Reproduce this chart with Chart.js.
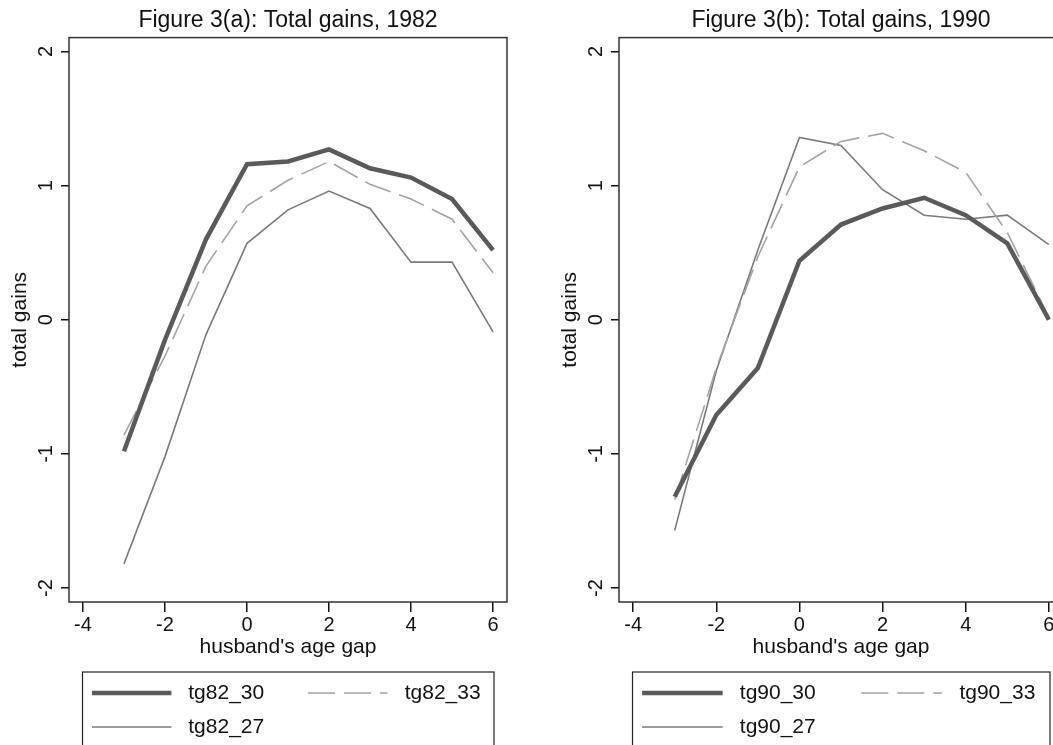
<!DOCTYPE html>
<html>
<head>
<meta charset="utf-8">
<script src="https://cdn.jsdelivr.net/npm/chart.js@4.4.1/dist/chart.umd.min.js"></script>
<style>
  html, body { margin: 0; padding: 0; background: #fff; overflow: hidden; width: 1053px; height: 745px; }
  .panel { position: absolute; top: 0; height: 745px; }
  #left { left: 0; width: 530px; }
  #right { left: 550px; width: 536px; }
</style>
</head>
<body>
<div class="panel" id="left"><canvas id="chart82"></canvas></div>
<div class="panel" id="right"><canvas id="chart90"></canvas></div>
<script>
const gaps = [-3, -2, -1, 0, 1, 2, 3, 4, 5, 6];
const xTicks = [-4, -2, 0, 2, 4, 6];
const yTicks = [-2, -1, 0, 1, 2];

const tg82_30 = [-0.98, -0.15, 0.60, 1.16, 1.18, 1.27, 1.13, 1.06, 0.90, 0.52];
const tg82_33 = [-0.86, -0.27, 0.40, 0.85, 1.04, 1.18, 1.01, 0.90, 0.75, 0.35];
const tg82_27 = [-1.82, -1.02, -0.11, 0.57, 0.82, 0.96, 0.83, 0.43, 0.43, -0.09];

const tg90_30 = [-1.32, -0.71, -0.36, 0.44, 0.71, 0.83, 0.91, 0.78, 0.57, 0.00];
const tg90_33 = [-1.34, -0.36, 0.47, 1.14, 1.33, 1.39, 1.26, 1.10, 0.65, 0.02];
const tg90_27 = [-1.57, -0.38, 0.52, 1.36, 1.30, 0.97, 0.78, 0.75, 0.78, 0.56];

const FONT = '"Liberation Sans", Arial, Helvetica, sans-serif';

const toPoints = vals => gaps.map((g, i) => ({ x: g, y: vals[i] }));

// Stata-like frame around the plot region
const framePlugin = {
  id: 'frame',
  afterDatasetsDraw(chart) {
    const { ctx, chartArea: a } = chart;
    ctx.save();
    ctx.strokeStyle = '#333';
    ctx.lineWidth = 1.5;
    ctx.strokeRect(a.left, a.top, a.right - a.left, a.bottom - a.top);
    ctx.restore();
  }
};

// two-column legend box under the axis title
const legendPlugin = {
  id: 'stataLegend',
  afterDraw(chart) {
    const { ctx, chartArea: a } = chart;
    const left = a.left + 13.5;
    const w = (a.right - 13) - left;
    const top = 672;
    ctx.save();
    ctx.strokeStyle = '#222';
    ctx.lineWidth = 1.2;
    ctx.strokeRect(left, top, w, 90);
    const slots = [
      { col: 0, y: top + 21 },
      { col: 1, y: top + 21 },
      { col: 0, y: top + 55 }
    ];
    chart.data.datasets.forEach((ds, i) => {
      const s = slots[i];
      const x0 = left + w * (s.col ? 0.548 : 0.023);
      const tx = left + w * (s.col ? 0.783 : 0.257);
      ctx.beginPath();
      ctx.strokeStyle = ds.borderColor;
      ctx.lineWidth = ds.borderWidth;
      ctx.setLineDash(ds.borderDash || []);
      ctx.moveTo(x0, s.y);
      ctx.lineTo(x0 + w * 0.193, s.y);
      ctx.stroke();
      ctx.setLineDash([]);
      ctx.fillStyle = '#111';
      ctx.font = '21px ' + FONT;
      ctx.textBaseline = 'middle';
      ctx.textAlign = 'left';
      ctx.fillText(ds.label, tx, s.y);
    });
    ctx.restore();
  }
};

function makeChart(id, title, names, series) {
  const styles = [
    { borderColor: '#5a5a5a', borderWidth: 4.5 },
    { borderColor: '#a3a3a3', borderWidth: 1.6, borderDash: [27, 9] },
    { borderColor: '#7a7a7a', borderWidth: 1.6 }
  ];
  return new Chart(document.getElementById(id), {
    type: 'line',
    data: {
      datasets: series.map((vals, i) => Object.assign({
        label: names[i],
        data: toPoints(vals),
        pointRadius: 0,
        tension: 0,
        fill: false
      }, styles[i]))
    },
    options: {
      responsive: true,
      maintainAspectRatio: false,
      animation: false,
      layout: { padding: { top: 0, right: 23, bottom: 85, left: 0 } },
      plugins: {
        legend: { display: false },
        tooltip: { enabled: false },
        title: {
          display: true,
          text: title,
          fullSize: false,
          color: '#111',
          font: { family: FONT, size: 23, weight: 'normal' },
          padding: { top: 7, bottom: 3 }
        }
      },
      scales: {
        x: {
          type: 'linear',
          min: -4.34,
          max: 6.34,
          afterBuildTicks: s => { s.ticks = xTicks.map(v => ({ value: v })); },
          afterFit: s => { s.height = 58; },
          ticks: {
            color: '#111',
            font: { family: FONT, size: 20 },
            padding: 1,
            maxRotation: 0,
            autoSkip: false
          },
          grid: { drawOnChartArea: false, drawTicks: true, tickLength: 10, color: '#111', lineWidth: 1.5 },
          border: { display: false },
          title: {
            display: true,
            text: "husband's age gap",
            color: '#111',
            font: { family: FONT, size: 21 },
            padding: { top: 0, bottom: 0 }
          }
        },
        y: {
          type: 'linear',
          min: -2.104,
          max: 2.104,
          afterBuildTicks: s => { s.ticks = yTicks.map(v => ({ value: v })); },
          afterFit: s => { s.width = 69; },
          ticks: {
            color: '#111',
            font: { family: FONT, size: 20 },
            minRotation: 90,
            maxRotation: 90,
            crossAlign: 'center',
            padding: 6,
            autoSkip: false
          },
          grid: { drawOnChartArea: false, drawTicks: true, tickLength: 8, color: '#111', lineWidth: 1.5 },
          border: { display: false },
          title: {
            display: true,
            text: 'total gains',
            color: '#111',
            font: { family: FONT, size: 21 },
            padding: { top: 8, bottom: 0 }
          }
        }
      }
    },
    plugins: [framePlugin, legendPlugin]
  });
}

makeChart('chart82', 'Figure 3(a): Total gains, 1982',
  ['tg82_30', 'tg82_33', 'tg82_27'], [tg82_30, tg82_33, tg82_27]);
makeChart('chart90', 'Figure 3(b): Total gains, 1990',
  ['tg90_30', 'tg90_33', 'tg90_27'], [tg90_30, tg90_33, tg90_27]);
</script>
</body>
</html>
